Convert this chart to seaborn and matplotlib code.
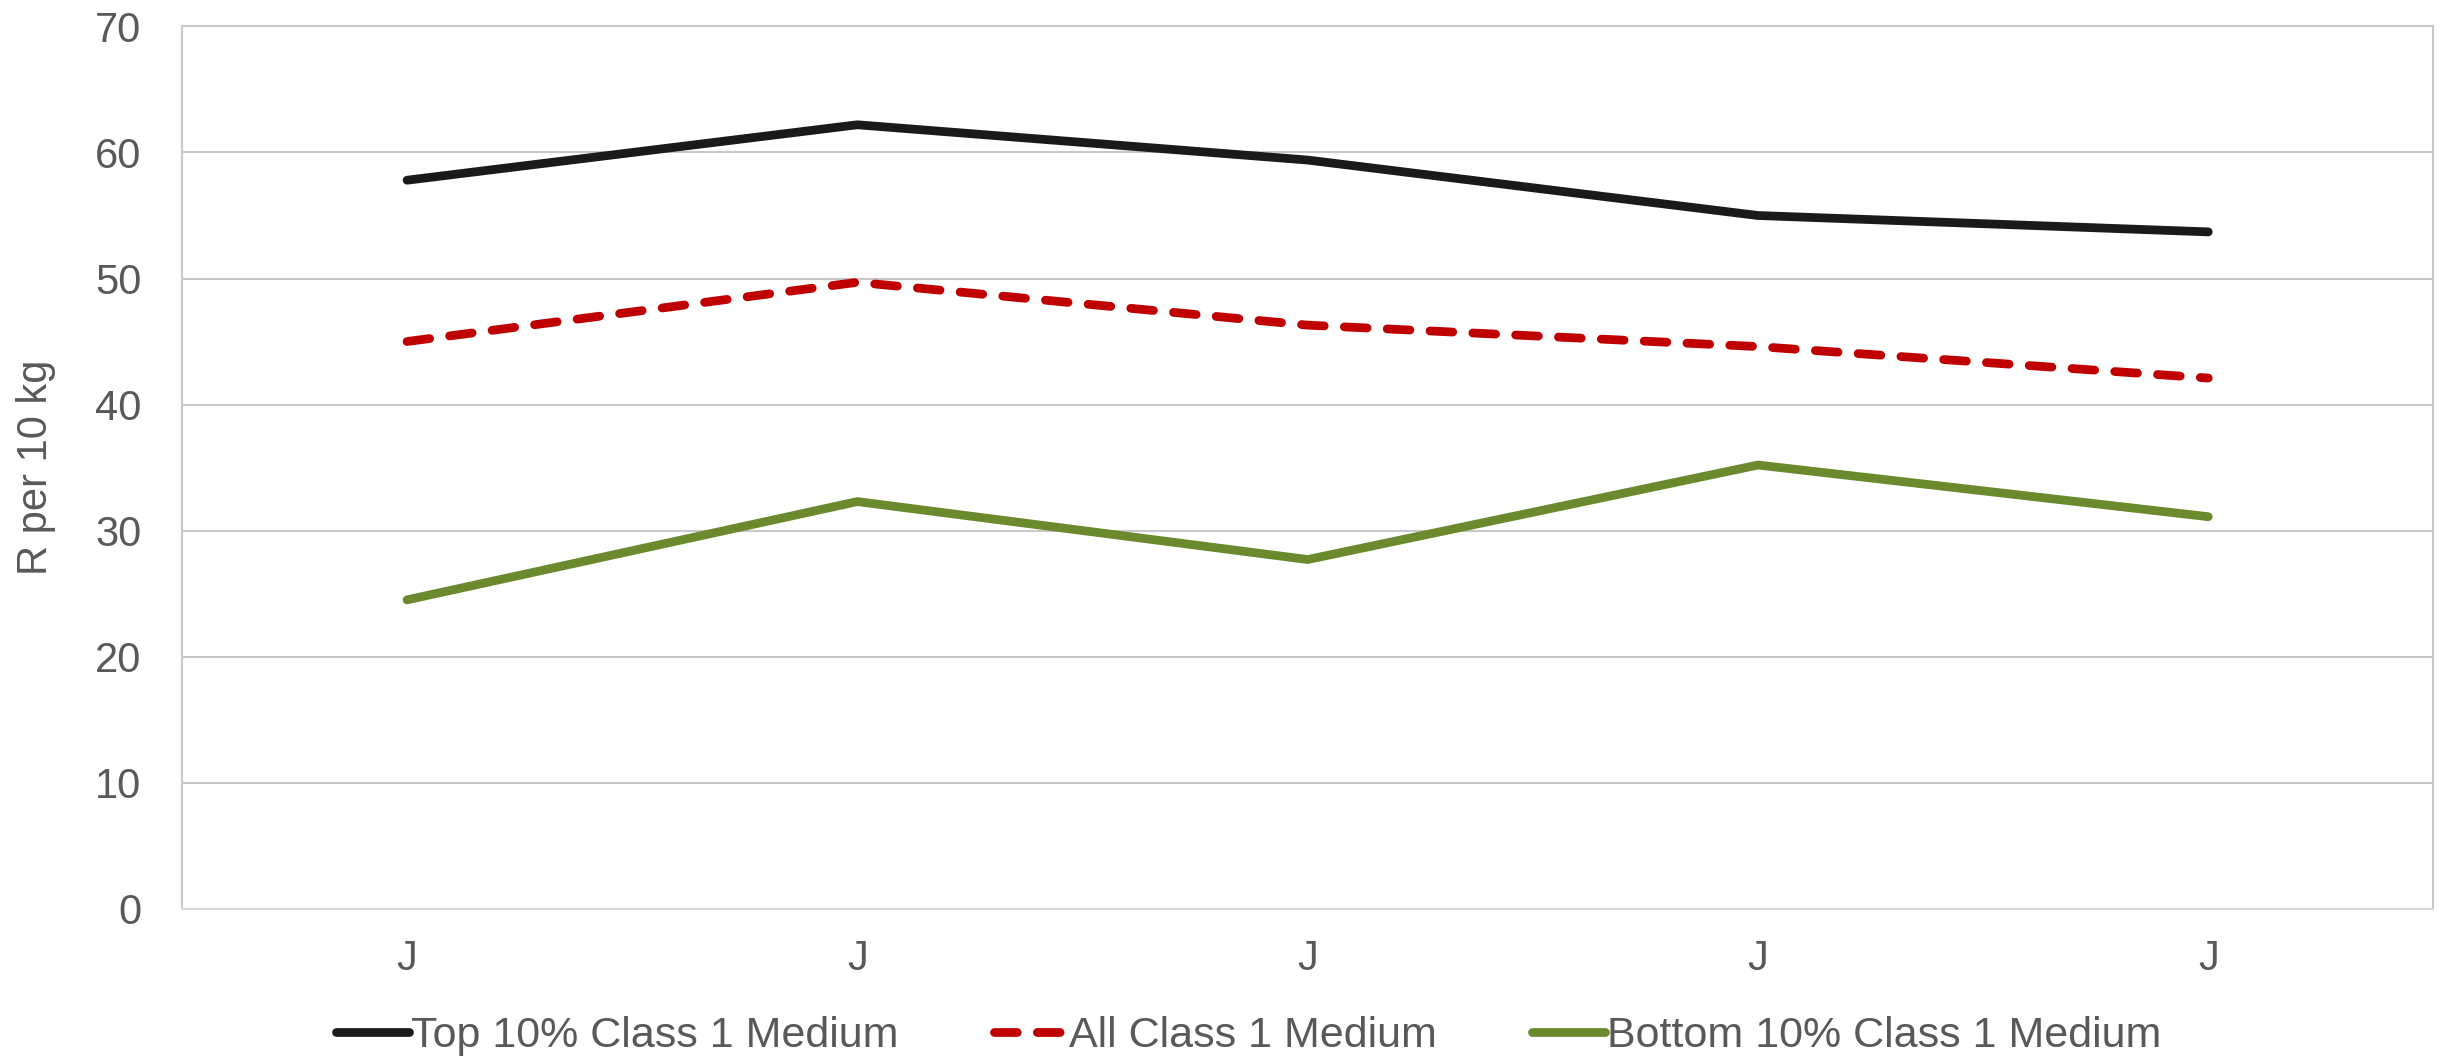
import matplotlib
matplotlib.use("Agg")
import matplotlib.pyplot as plt
import seaborn as sns
import pandas as pd

categories = ["J1", "J2", "J3", "J4", "J5"]
tick_labels = ["J", "J", "J", "J", "J"]
top10 = [57.8, 62.2, 59.4, 55.0, 53.7]
all_class = [45.0, 49.7, 46.3, 44.6, 42.1]
bottom10 = [24.5, 32.3, 27.7, 35.2, 31.1]
series_names = ["Top 10% Class 1 Medium", "All Class 1 Medium", "Bottom 10% Class 1 Medium"]

sns.set_theme(style="white")
plt.rcParams['font.family'] = ['Liberation Sans', 'DejaVu Sans']

fig = plt.figure(figsize=(24.58, 10.59), dpi=100)
ax = fig.add_axes([0.074, 0.142, 0.916, 0.833])

x = list(range(len(categories)))
colors = ["#1a1a1a", "#c00000", "#6b8a2e"]
values = [top10, all_class, bottom10]
for name, vals, col in zip(series_names, values, colors):
    line_kw = dict(color=col, linewidth=6.3, solid_capstyle="round", dash_capstyle="round")
    if name == "All Class 1 Medium":
        line_kw["dashes"] = (2.6, 2.3)
    sns.lineplot(x=x, y=vals, ax=ax, label=name, **line_kw)

ax.set_xlim(-0.5, len(categories) - 0.5)
ax.set_ylim(0, 70)
ax.set_yticks(range(0, 71, 10))
ax.set_xticks(x)
ax.set_xticklabels(tick_labels)
ax.yaxis.grid(True, color="#c8c8c8", linewidth=1.5)
ax.xaxis.grid(False)
for side in ["left", "right", "top"]:
    ax.spines[side].set_visible(True)
    ax.spines[side].set_color("#c8c8c8")
    ax.spines[side].set_linewidth(1.5)
ax.spines["bottom"].set_color("#d9d9d9")
ax.spines["bottom"].set_linewidth(1.5)
ax.tick_params(axis="y", length=0, pad=29, labelsize=30, labelcolor="#595959")
ax.tick_params(axis="x", length=0, pad=22, labelsize=30, labelcolor="#595959")
ax.set_ylabel("R per 10 kg", fontsize=30, color="#595959", labelpad=28)
ax.set_xlabel("")

handles, labels = ax.get_legend_handles_labels()
ax.get_legend().remove()
fig.legend(handles, labels, loc="center", bbox_to_anchor=(0.508, 0.022), ncol=3, frameon=False,
           fontsize=31, handlelength=1.7, handletextpad=0.05, columnspacing=2.2,
           labelcolor="#595959")

fig.savefig("out.png", dpi=100, facecolor="white")
